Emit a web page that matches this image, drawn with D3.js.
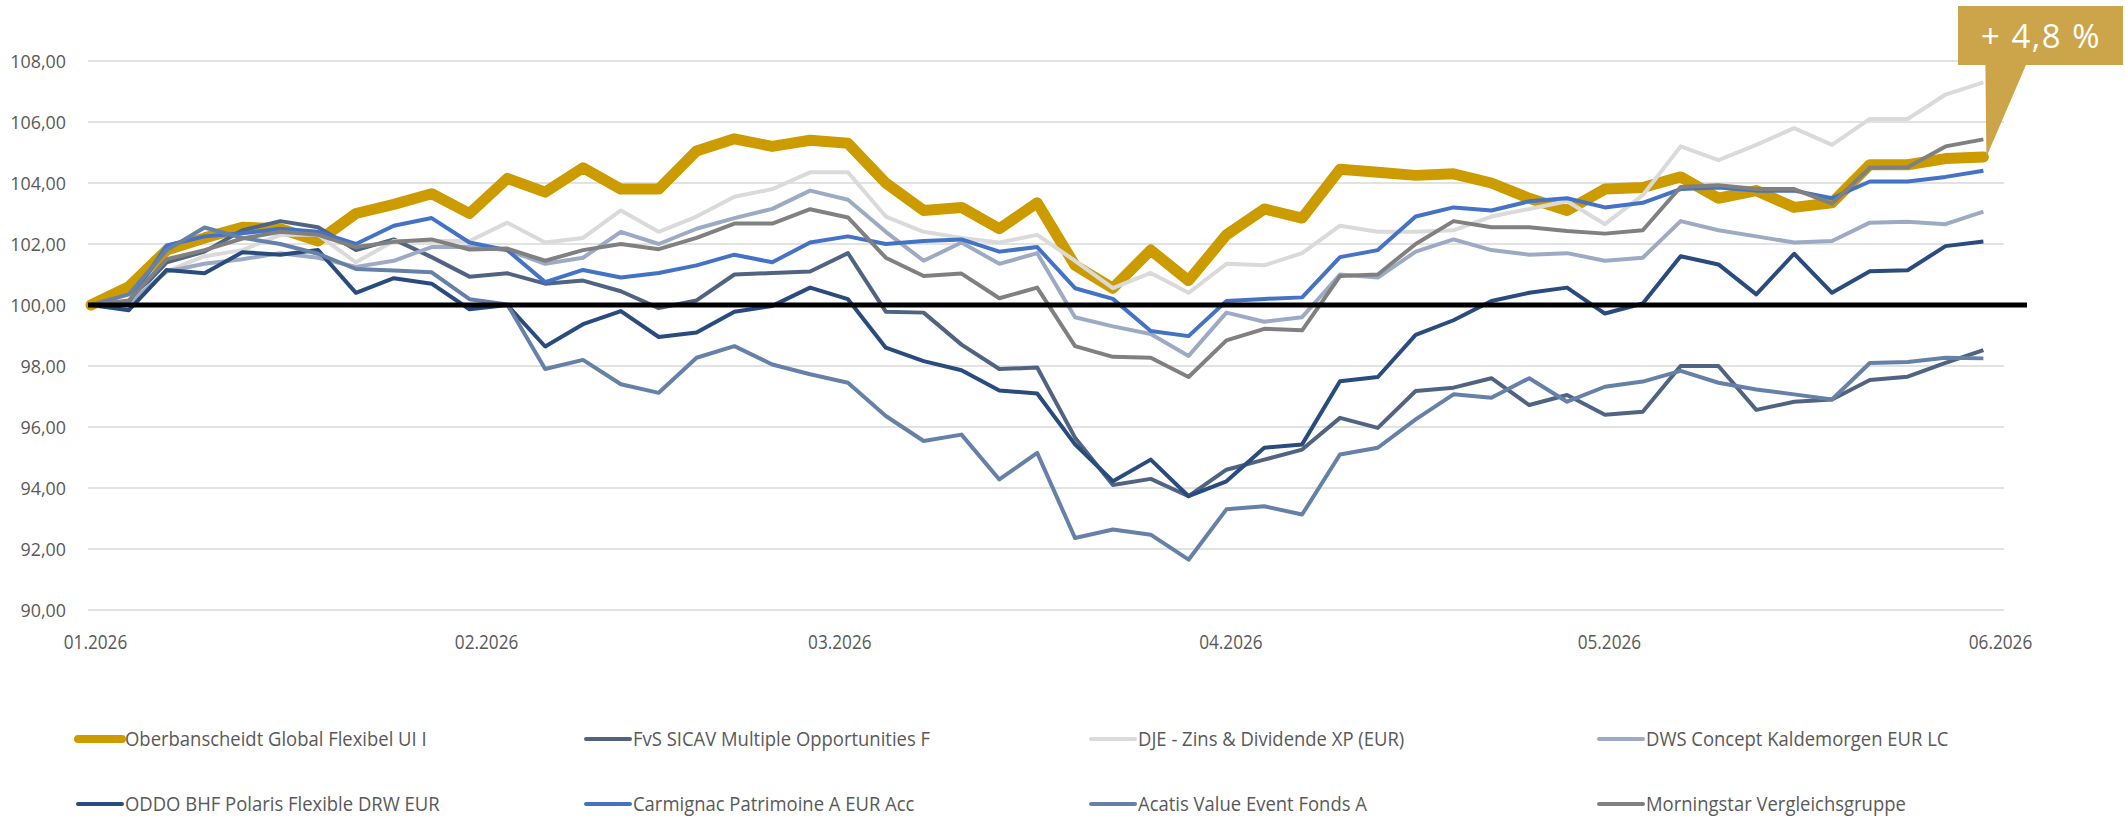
<!DOCTYPE html>
<html>
<head>
<meta charset="utf-8">
<script src="https://cdn.jsdelivr.net/npm/d3@7"></script>
<style>
  body { margin: 0; background: #fff; }
  text { font-family: "Open Sans", "Noto Sans", sans-serif; }
</style>
</head>
<body>
<svg id="chart" width="2125" height="822"></svg>
<script>
// one point every third day, 01.01.2026 - 31.05.2026
const startDay = new Date(2026, 0, 1);
const dates = d3.range(0, 151, 3).map(d => d3.timeDay.offset(startDay, d));

const oberbanscheidt = [100.0, 100.6, 101.8, 102.2, 102.55, 102.5, 102.1, 103.0, 103.3, 103.65, 103.0, 104.15, 103.7,
  104.5, 103.8, 103.8, 105.05, 105.45, 105.2, 105.4, 105.3, 104.0, 103.1, 103.2, 102.5, 103.35,
  101.3, 100.55, 101.8, 100.8, 102.3, 103.15, 102.85, 104.45, 104.35, 104.25, 104.3, 104.0,
  103.5, 103.1, 103.8, 103.85, 104.2, 103.5, 103.75, 103.2, 103.35, 104.6, 104.6, 104.8, 104.85];
const fvs = [100.0, 100.1, 101.4, 101.75, 102.45, 102.75, 102.55, 101.8, 102.15, 101.57, 100.93, 101.04, 100.7,
  100.8, 100.45, 99.9, 100.15, 101.0, 101.05, 101.1, 101.7, 99.78, 99.75, 98.7, 97.9, 97.95,
  95.65, 94.1, 94.3, 93.73, 94.6, 94.93, 95.26, 96.3, 95.97, 97.18, 97.29, 97.6,
  96.72, 97.05, 96.4, 96.5, 98.0, 98.0, 96.56, 96.83, 96.9, 97.54, 97.65, 98.1, 98.52];
const dje = [100.0, 100.1, 101.1, 101.6, 101.8, 102.3, 102.3, 101.4, 102.1, 102.1, 102.1, 102.7, 102.05,
  102.2, 103.1, 102.4, 102.9, 103.55, 103.8, 104.35, 104.35, 102.9, 102.4, 102.2, 102.05, 102.3,
  101.45, 100.55, 101.05, 100.4, 101.35, 101.3, 101.7, 102.6, 102.4, 102.4, 102.45, 102.9,
  103.15, 103.4, 102.65, 103.6, 105.2, 104.75, 105.25, 105.8, 105.25, 106.1, 106.1, 106.9, 107.3];
const dws = [100.0, 100.05, 101.1, 101.35, 101.5, 101.7, 101.55, 101.25, 101.45, 101.9, 101.9, 101.8, 101.35,
  101.55, 102.4, 102.0, 102.5, 102.85, 103.15, 103.75, 103.45, 102.4, 101.45, 102.05, 101.35, 101.7,
  99.6, 99.3, 99.05, 98.33, 99.75, 99.45, 99.6, 101.0, 100.9, 101.75, 102.15, 101.8,
  101.65, 101.7, 101.45, 101.55, 102.75, 102.45, 102.25, 102.05, 102.1, 102.7, 102.73, 102.65, 103.06];
const oddo = [100.0, 99.83, 101.15, 101.04, 101.73, 101.65, 101.8, 100.4, 100.88, 100.7, 99.86, 100.0, 98.64,
  99.37, 99.8, 98.95, 99.1, 99.78, 99.97, 100.57, 100.19, 98.6, 98.16, 97.86, 97.2, 97.1,
  95.43, 94.22, 94.93, 93.73, 94.22, 95.32, 95.43, 97.5, 97.64, 99.02, 99.5, 100.13,
  100.4, 100.57, 99.72, 100.05, 101.6, 101.33, 100.35, 101.68, 100.4, 101.11, 101.14, 101.93, 102.08];
const carmignac = [100.0, 100.1, 101.95, 102.25, 102.35, 102.5, 102.4, 102.0, 102.6, 102.85, 102.05, 101.8, 100.75,
  101.15, 100.9, 101.05, 101.3, 101.65, 101.4, 102.05, 102.25, 102.0, 102.1, 102.15, 101.75, 101.9,
  100.55, 100.2, 99.15, 98.98, 100.13, 100.2, 100.25, 101.57, 101.8, 102.9, 103.2, 103.1,
  103.4, 103.5, 103.2, 103.35, 103.8, 103.85, 103.75, 103.75, 103.5, 104.05, 104.05, 104.2, 104.4];
const acatis = [100.0, 100.35, 101.8, 102.54, 102.2, 102.0, 101.68, 101.18, 101.13, 101.07, 100.19, 100.02, 97.9,
  98.2, 97.4, 97.12, 98.27, 98.65, 98.05, 97.73, 97.45, 96.36, 95.54, 95.75, 94.28, 95.15,
  92.36, 92.64, 92.47, 91.65, 93.3, 93.4, 93.13, 95.1, 95.32, 96.25, 97.07, 96.96,
  97.6, 96.83, 97.32, 97.49, 97.84, 97.45, 97.23, 97.07, 96.9, 98.1, 98.13, 98.27, 98.25];
const morningstar = [100.0, 100.15, 101.5, 101.8, 102.18, 102.4, 102.3, 101.9, 102.07, 102.15, 101.82, 101.85, 101.45,
  101.8, 102.0, 101.83, 102.2, 102.67, 102.67, 103.14, 102.87, 101.55, 100.95, 101.03, 100.22, 100.57,
  98.65, 98.3, 98.27, 97.64, 98.84, 99.22, 99.17, 100.95, 101.0, 102.0, 102.75, 102.55,
  102.55, 102.43, 102.34, 102.45, 103.87, 103.93, 103.8, 103.8, 103.32, 104.5, 104.52, 105.2, 105.43];

const seriesNames = ['Oberbanscheidt Global Flexibel UI I', 'FvS SICAV Multiple Opportunities F',
  'DJE - Zins & Dividende XP (EUR)', 'DWS Concept Kaldemorgen EUR LC',
  'ODDO BHF Polaris Flexible DRW EUR', 'Carmignac Patrimoine A EUR Acc',
  'Acatis Value Event Fonds A', 'Morningstar Vergleichsgruppe'];
const seriesValues = [oberbanscheidt, fvs, dje, dws, oddo, carmignac, acatis, morningstar];
const seriesColors = ['#cc9b00', '#506482', '#dadada', '#9cabc3', '#294b7e', '#4472c4', '#6581a7', '#808080'];
const seriesWidths = [11, 4, 4, 4, 4, 4, 4, 4];

const yTicks = [90, 92, 94, 96, 98, 100, 102, 104, 106, 108];
const monthTicks = [new Date(2026, 0, 1), new Date(2026, 1, 1), new Date(2026, 2, 1),
  new Date(2026, 3, 1), new Date(2026, 4, 1), new Date(2026, 5, 1)];
const baseLevel = 100;
const calloutText = '+ 4,8 %';

const svg = d3.select('#chart');
const textColor = '#595959';

const x = d3.scaleTime()
  .domain([startDay, new Date(2026, 5, 1)])
  .range([91, 1996]);
const y = d3.scaleLinear()
  .domain([90, 108])
  .range([610, 61]);

const de = d3.formatLocale({decimal: ',', thousands: '.', grouping: [3], currency: ['', ' €']});

// gridlines
svg.append('g')
  .selectAll('line')
  .data(yTicks)
  .enter()
  .append('line')
  .attr('x1', 88)
  .attr('x2', 2004)
  .attr('y1', d => y(d))
  .attr('y2', d => y(d))
  .attr('stroke', '#d9d9d9')
  .attr('stroke-width', 1.5);

// y axis labels
const yAxis = svg.append('g')
  .attr('transform', 'translate(66,0)')
  .call(d3.axisLeft(y).tickValues(yTicks).tickSize(0).tickPadding(0).tickFormat(de.format('.2f')));
yAxis.select('.domain').remove();
yAxis.selectAll('text')
  .attr('fill', textColor)
  .attr('font-size', 19)
  .attr('dy', '0.36em')
  .attr('transform', 'scale(0.94,1)');

// x axis labels
const xAxis = svg.append('g')
  .attr('transform', 'translate(4,649)')
  .call(d3.axisBottom(x).tickValues(monthTicks).tickSize(0).tickPadding(0).tickFormat(d3.timeFormat('%m.%Y')));
xAxis.select('.domain').remove();
xAxis.selectAll('text')
  .attr('fill', textColor)
  .attr('font-size', 20)
  .attr('y', 0)
  .attr('dy', 0)
  .attr('transform', 'scale(0.86,1)');

// series lines
const line = d3.line()
  .x((d, i) => x(dates[i]))
  .y(d => y(d));

svg.append('g')
  .selectAll('path')
  .data(seriesValues)
  .enter()
  .append('path')
  .attr('d', d => line(d))
  .attr('fill', 'none')
  .attr('stroke', (d, i) => seriesColors[i])
  .attr('stroke-width', (d, i) => seriesWidths[i])
  .attr('stroke-linejoin', 'round')
  .attr('stroke-linecap', (d, i) => i == 0 ? 'round' : 'butt');

// 100 line
svg.append('line')
  .attr('x1', 88)
  .attr('x2', 2027)
  .attr('y1', y(baseLevel))
  .attr('y2', y(baseLevel))
  .attr('stroke', '#000')
  .attr('stroke-width', 5);

// callout for the last value of the fund
const lastX = x(dates[dates.length - 1]);
const lastY = y(oberbanscheidt[oberbanscheidt.length - 1]);
const callout = svg.append('g');
callout.append('rect')
  .attr('x', 1958)
  .attr('y', 6)
  .attr('width', 165)
  .attr('height', 59)
  .attr('fill', '#cca54a');
callout.append('path')
  .attr('d', `M${lastX + 2},64 L${lastX + 43},64 L${lastX + 3},${lastY} Z`)
  .attr('fill', '#cca54a');
callout.append('text')
  .text(calloutText)
  .attr('x', 2041)
  .attr('y', 48)
  .attr('text-anchor', 'middle')
  .attr('fill', '#fff')
  .attr('font-size', 33)
  .attr('letter-spacing', 1.5);

// legend, 4 columns by 2 rows
const legendCols = [125, 633, 1138, 1646];
const legendRows = [739, 804];
const legend = svg.append('g')
  .selectAll('g')
  .data(seriesNames)
  .enter()
  .append('g')
  .attr('transform', (d, i) => `translate(${legendCols[i % 4]},${legendRows[Math.floor(i / 4)]})`);
legend.append('line')
  .attr('x1', -47)
  .attr('x2', -3)
  .attr('y1', 0)
  .attr('y2', 0)
  .attr('stroke', (d, i) => seriesColors[i])
  .attr('stroke-width', (d, i) => i == 0 ? 8 : 4)
  .attr('stroke-linecap', 'round');
legend.append('text')
  .text(d => d)
  .attr('y', 7)
  .attr('fill', textColor)
  .attr('font-size', 20.5)
  .attr('transform', 'scale(0.9,1)');
</script>
</body>
</html>
